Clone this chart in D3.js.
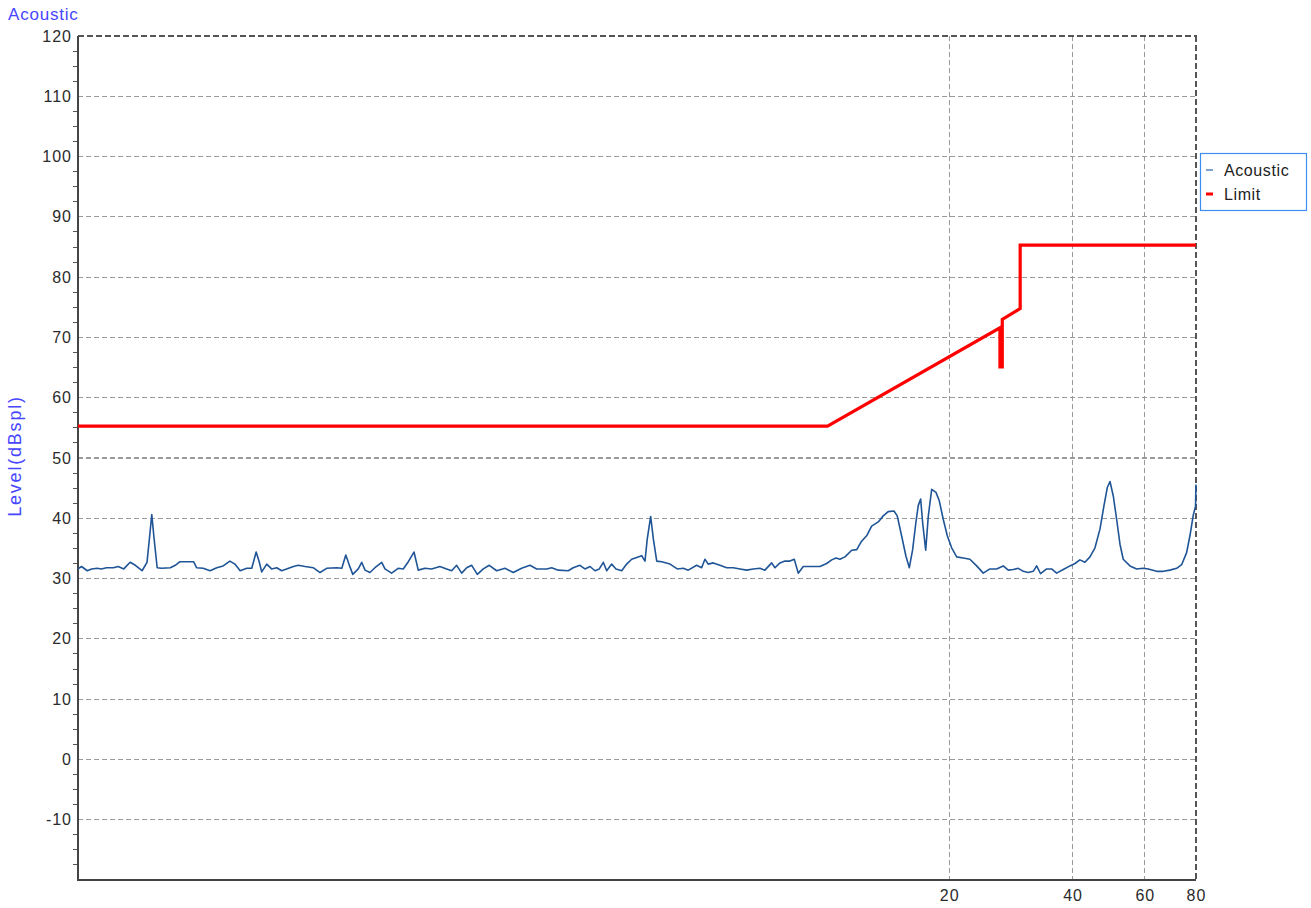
<!DOCTYPE html>
<html>
<head>
<meta charset="utf-8">
<script src="https://cdn.jsdelivr.net/npm/d3@7"></script>
<style>
  html, body { margin: 0; padding: 0; background: #fff; }
  svg { display: block; }
  text { font-family: "Liberation Sans", Arial, sans-serif; }
</style>
</head>
<body>
<svg id="chart" width="1311" height="908"></svg>
<script>
// ---- data ----
const acousticFreq = [
  0.150,0.153,0.158,0.162,0.167,0.171,0.176,0.183,0.188,0.194,0.201,0.207,0.215,0.221,0.224,0.227,0.230,0.234,0.240,0.252,
  0.259,0.266,0.287,0.292,0.303,0.315,0.327,0.339,0.352,0.362,0.373,0.387,0.398,0.408,0.415,0.421,0.433,0.445,0.458,0.471,
  0.484,0.503,0.517,0.537,0.562,0.584,0.606,0.641,0.660,0.675,0.687,0.702,0.724,0.738,0.752,0.773,0.795,0.826,0.841,0.873,
  0.906,0.932,0.959,0.990,1.014,1.053,1.093,
  1.145,1.189,1.223,1.258,1.294,1.331,1.369,1.413,1.461,1.511,1.575,1.650,1.729,1.812,1.899,1.972,2.086,2.145,2.226,2.355,
  2.421,2.514,2.586,2.661,2.736,2.803,2.867,2.922,3.005,3.078,3.179,3.269,3.362,3.458,3.557,3.623,3.670,3.741,3.797,3.870,
  3.980,4.170,4.343,4.492,4.620,4.842,4.980,5.073,5.168,5.315,5.521,5.732,5.949,6.177,6.413,6.655,6.910,7.107,7.380,7.518,
  7.732,7.952,8.179,8.379,8.569,8.813,9.680,
  10.05,10.34,10.59,10.83,11.14,11.57,11.90,12.23,12.58,12.94,13.43,13.81,14.20,14.67,14.94,15.31,15.69,15.99,16.29,16.59,
  16.81,17.04,17.23,17.53,17.79,18.13,18.57,18.92,19.35,19.79,20.28,20.86,21.65,22.47,23.34,24.22,25.14,26.10,27.09,27.87,
  28.66,29.48,30.32,31.19,32.07,32.69,33.42,34.57,35.56,36.57,37.96,39.41,40.53,41.68,42.87,44.10,45.36,46.65,47.71,48.61,
  49.35,50.27,51.24,52.20,53.16,55.21,57.32,59.49,61.18,64.13,66.55,69.10,71.78,73.80,75.89,77.32,78.77,79.80,79.96
];
const acousticLevel = [
  31.6,32.0,31.3,31.6,31.7,31.6,31.8,31.8,32.0,31.6,32.7,32.2,31.3,32.7,36.6,40.6,36.6,31.8,31.7,31.8,
  32.2,32.8,32.8,31.8,31.7,31.3,31.8,32.1,32.9,32.4,31.3,31.7,31.7,34.4,32.8,31.1,32.4,31.6,31.8,31.3,
  31.6,32.0,32.2,32.0,31.8,31.0,31.7,31.8,31.7,33.9,32.4,30.7,31.6,32.7,31.4,31.0,31.8,32.7,31.6,30.9,
  31.7,31.6,32.8,34.4,31.4,31.7,31.6,
  32.0,31.6,31.3,32.2,30.9,31.8,32.2,30.7,31.6,32.2,31.3,31.7,31.0,31.7,32.2,31.6,31.6,31.8,31.4,31.3,
  31.8,32.2,31.6,32.0,31.3,31.6,32.7,31.3,32.4,31.6,31.3,32.4,33.2,33.5,33.8,32.9,36.6,40.3,36.6,32.9,
  32.8,32.4,31.6,31.7,31.4,32.2,31.8,33.2,32.4,32.6,32.2,31.8,31.8,31.6,31.4,31.6,31.7,31.4,32.6,31.8,
  32.6,32.9,32.9,33.2,30.9,32.0,32.0,
  32.5,33.1,33.4,33.2,33.6,34.7,34.8,36.2,37.1,38.7,39.4,40.4,41.1,41.2,40.4,37.1,33.7,31.8,34.8,39.3,
  42.1,43.2,39.3,34.7,40.4,44.8,44.3,42.9,39.8,37.1,35.1,33.6,33.4,33.2,32.1,30.9,31.6,31.6,32.1,31.4,
  31.5,31.7,31.2,31.0,31.2,32.1,30.8,31.6,31.6,30.9,31.5,32.1,32.5,33.1,32.7,33.6,35.1,38.2,42.1,45.1,
  46.1,43.7,39.8,35.7,33.2,32.1,31.6,31.7,31.6,31.2,31.2,31.4,31.7,32.3,34.3,37.1,40.5,42.0,45.6
];
const limitFreq  = [0.15, 10.1, 26.6, 26.6, 26.95, 26.95, 29.8, 29.8, 80];
const limitLevel = [55.3, 55.3, 71.6, 65.1, 65.1, 73.0, 74.8, 85.3, 85.3];

const yTickValues = [-10,0,10,20,30,40,50,60,70,80,90,100,110,120];
const xTickValues = [20,40,60,80];
const seriesNames = ["Acoustic","Limit"];
const seriesColors = ["#1f5596","#ff0000"];

// ---- layout ----
const L = 78, R = 1196, T = 36, B = 880;
const svg = d3.select("#chart");
const x = d3.scaleLog().domain([0.15, 80]).range([L, R]);
const y = d3.scaleLinear().domain([-20, 120]).range([B, T]);

// grid
const grid = svg.append("g");
grid.selectAll("line.h").data(yTickValues.filter(d => d !== 120)).join("line")
  .attr("x1", L).attr("x2", R)
  .attr("y1", d => y(d)).attr("y2", d => y(d))
  .attr("stroke", "#9a9a9a")
  .attr("stroke-width", 1.2)
  .attr("stroke-dasharray", "5,3")
  .attr("shape-rendering", "crispEdges");
grid.selectAll("line.v").data(xTickValues.filter(d => d !== 80)).join("line")
  .attr("x1", d => x(d)).attr("x2", d => x(d))
  .attr("y1", T).attr("y2", B)
  .attr("stroke", "#9a9a9a")
  .attr("stroke-width", 1.2)
  .attr("stroke-dasharray", "5,3")
  .attr("shape-rendering", "crispEdges");
// top / right frame (dashed, dark)
svg.append("line").attr("x1", L).attr("x2", R + 1).attr("y1", y(120)).attr("y2", y(120))
  .attr("stroke", "#555").attr("stroke-width", 2).attr("stroke-dasharray", "6,3");
svg.append("line").attr("x1", x(80)).attr("x2", x(80)).attr("y1", T).attr("y2", B)
  .attr("stroke", "#555").attr("stroke-width", 2).attr("stroke-dasharray", "6,3");

// y axis
const yAxis = d3.axisLeft(y).tickValues(yTickValues).tickSize(0).tickPadding(6).tickFormat(d => String(d));
const gy = svg.append("g").attr("transform", `translate(${L},0)`).call(yAxis);
gy.select(".domain").remove();
gy.selectAll("text").attr("font-size", 16).attr("fill", "#2b2b2b").attr("font-family", "Liberation Sans, Arial, sans-serif")
  .attr("letter-spacing", 1);
const minor = d3.range(-17.5, 120, 2.5).filter(v => v % 10 !== 0);
svg.append("g").selectAll("line").data(minor).join("line")
  .attr("x1", L - 5).attr("x2", L).attr("y1", d => y(d)).attr("y2", d => y(d))
  .attr("stroke", "#555").attr("shape-rendering", "crispEdges");

// x axis
const xAxis = d3.axisBottom(x).tickValues(xTickValues).tickSize(0).tickPadding(10).tickFormat(d => String(d));
const gx = svg.append("g").attr("transform", `translate(0,${B})`).call(xAxis);
gx.select(".domain").remove();
gx.selectAll("text").attr("font-size", 16).attr("fill", "#2b2b2b").attr("font-family", "Liberation Sans, Arial, sans-serif")
  .attr("letter-spacing", 1);

// axis lines
svg.append("line").attr("x1", L).attr("x2", L).attr("y1", T).attr("y2", B + 1)
  .attr("stroke", "#444").attr("stroke-width", 2).attr("shape-rendering", "crispEdges");
svg.append("line").attr("x1", L).attr("x2", R).attr("y1", B).attr("y2", B)
  .attr("stroke", "#444").attr("stroke-width", 2).attr("shape-rendering", "crispEdges");

// series
const line = d3.line().x(d => x(d[0])).y(d => y(d[1]));
const acoustic = acousticFreq.map((f, i) => [f, acousticLevel[i]]);
const limit = limitFreq.map((f, i) => [f, limitLevel[i]]);
svg.append("path").datum(limit).attr("d", line)
  .attr("fill", "none").attr("stroke", seriesColors[1]).attr("stroke-width", 3.2)
  .attr("stroke-linejoin", "miter");
svg.append("path").datum(acoustic).attr("d", line)
  .attr("fill", "none").attr("stroke", seriesColors[0]).attr("stroke-width", 1.6)
  .attr("stroke-linejoin", "round");

// title & y label
svg.append("text").attr("x", 8).attr("y", 20).text("Acoustic")
  .attr("fill", "#4646ff").attr("font-size", 17).attr("letter-spacing", 0.8);
svg.append("text").attr("transform", "translate(21,456) rotate(-90)")
  .attr("text-anchor", "middle").text("Level(dBspl)")
  .attr("fill", "#4646ff").attr("font-size", 18).attr("letter-spacing", 1.8);

// legend
const lg = svg.append("g").attr("transform", "translate(1200,153)");
lg.append("rect").attr("x", 0.5).attr("y", 0.5).attr("width", 106).attr("height", 57)
  .attr("fill", "#fff").attr("stroke", "#3d8ef0").attr("stroke-width", 1.2);
const swatch = ["#7fa2cc", "#ff0000"];
seriesNames.forEach((n, i) => {
  const cy = 17 + i * 24;
  lg.append("line").attr("x1", 6).attr("x2", 13).attr("y1", cy).attr("y2", cy)
    .attr("stroke", swatch[i]).attr("stroke-width", i === 0 ? 2 : 3);
  lg.append("text").attr("x", 24).attr("y", cy + 6).text(n)
    .attr("fill", "#222").attr("font-size", 16).attr("letter-spacing", 0.6);
});
</script>
</body>
</html>
